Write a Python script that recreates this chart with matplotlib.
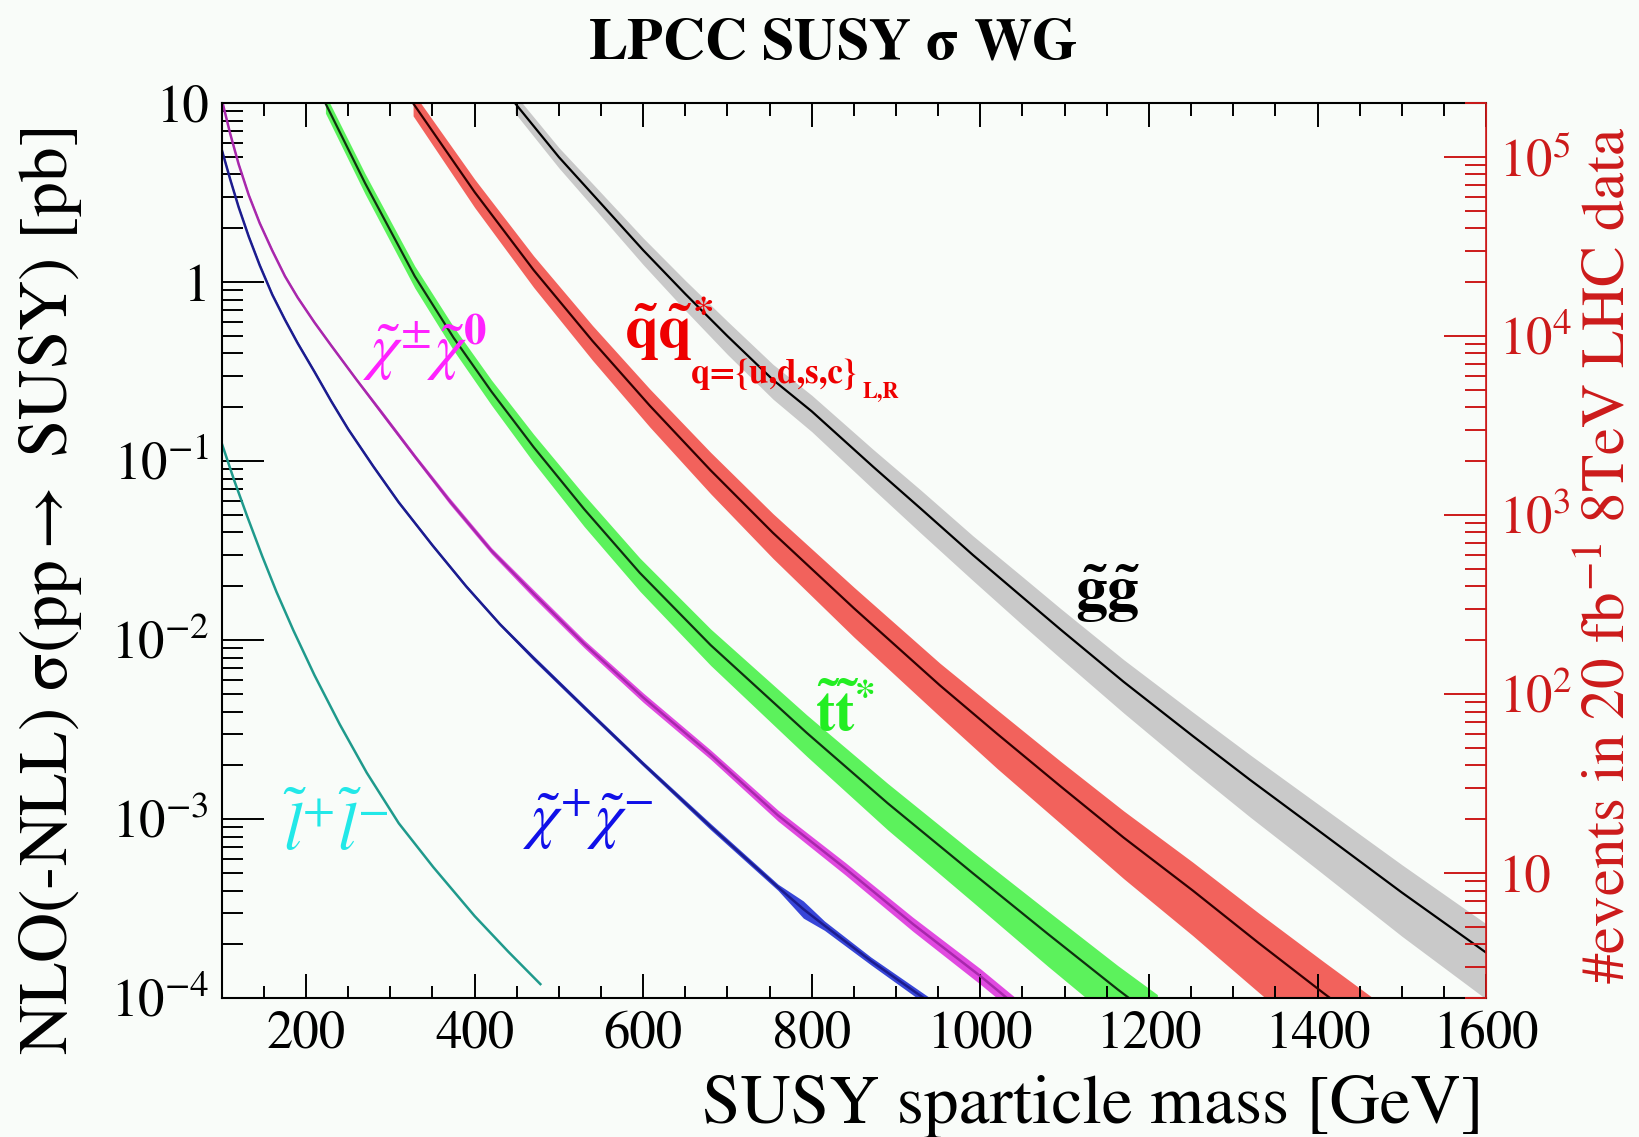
import numpy as np
import matplotlib.pyplot as plt
from matplotlib.ticker import FixedLocator, FixedFormatter, LogLocator, MultipleLocator, NullFormatter

plt.rcParams['font.family'] = 'STIXGeneral'
plt.rcParams['mathtext.fontset'] = 'stix'

# NLO(+NLL) cross sections [pb] vs. sparticle mass [GeV]
m_gluino = [448, 500, 550, 600, 650, 700, 754, 800, 873, 930, 991, 1050, 1095, 1170,
            1252, 1320, 1399, 1500, 1600]
xs_gluino = [10.0, 5.0, 2.75, 1.51, 0.86, 0.50, 0.285, 0.19, 0.093, 0.054, 0.030, 0.0174,
             0.0115, 0.00586, 0.00292, 0.00166, 8.8e-4, 3.9e-4, 1.8e-4]
unc_gluino = [0.12, 0.13, 0.15, 0.17, 0.19, 0.21, 0.22, 0.23, 0.25, 0.27, 0.28, 0.30,
              0.31, 0.33, 0.36, 0.38, 0.40, 0.43, 0.45]

m_squark = [327, 400, 470, 540, 608, 680, 754, 850, 952, 1020, 1095, 1170, 1252, 1330, 1407, 1480]
xs_squark = [10.0, 3.19, 1.17, 0.469, 0.204, 0.089, 0.0398, 0.0151, 0.0056, 0.0030, 0.00153,
             7.9e-4, 4.0e-4, 2.04e-4, 1.07e-4, 5.9e-5]
unc_squark = [0.15, 0.18, 0.20, 0.22, 0.24, 0.26, 0.28, 0.31, 0.33, 0.36, 0.38, 0.41,
              0.44, 0.47, 0.50, 0.52]

m_stop = [223, 270, 329, 375, 420, 470, 530, 596, 680, 794, 890, 991, 1080, 1163, 1210]
xs_stop = [10.0, 3.58, 1.08, 0.49, 0.245, 0.120, 0.054, 0.0238, 0.0094, 0.00304, 0.00123,
           5.0e-4, 2.29e-4, 1.12e-4, 7.6e-5]
unc_stop = [0.12, 0.13, 0.14, 0.15, 0.16, 0.18, 0.20, 0.21, 0.23, 0.26, 0.29, 0.31, 0.34, 0.36, 0.38]

m_c1n2 = [100, 110, 120, 132, 145, 160, 175, 190, 210, 230, 260, 290, 330, 370, 420, 470,
          530, 600, 680, 760, 840, 920, 1000, 1040]
xs_c1n2 = [10.5, 6.76, 4.57, 3.07, 2.14, 1.50, 1.08, 0.822, 0.596, 0.442, 0.285, 0.186,
           0.105, 0.0603, 0.0316, 0.0182, 0.00955, 0.00479, 0.00230, 0.00105, 5.3e-4,
           2.60e-4, 1.33e-4, 9.3e-5]
unc_c1n2 = [0.02, 0.02, 0.02, 0.02, 0.02, 0.02, 0.02, 0.02, 0.02, 0.02, 0.02, 0.03,
            0.03, 0.04, 0.04, 0.05, 0.05, 0.06, 0.06, 0.07, 0.08, 0.09, 0.10, 0.10]

m_c1c1 = [100, 110, 120, 132, 145, 160, 175, 190, 210, 230, 250, 280, 310, 350, 390, 430,
          470, 530, 600, 680, 760, 790, 815, 870, 940]
xs_c1c1 = [5.50, 3.76, 2.63, 1.80, 1.245, 0.851, 0.617, 0.457, 0.316, 0.216, 0.151, 0.0933,
           0.0589, 0.0339, 0.0200, 0.0123, 0.00794, 0.00422, 0.00204, 9.1e-4, 4.17e-4,
           3.15e-4, 2.55e-4, 1.62e-4, 9.5e-5]
unc_c1c1 = [0.02, 0.02, 0.02, 0.02, 0.02, 0.02, 0.02, 0.02, 0.02, 0.02, 0.02, 0.02,
            0.02, 0.02, 0.02, 0.02, 0.03, 0.03, 0.03, 0.04, 0.04, 0.11, 0.06, 0.05, 0.06]

m_slep = [100, 115, 130, 148, 165, 185, 210, 240, 272, 310, 351, 400, 440, 478]
xs_slep = [0.126, 0.0776, 0.0495, 0.0295, 0.0186, 0.01135, 0.00638, 0.00339, 0.00182,
           9.5e-4, 5.4e-4, 2.88e-4, 1.82e-4, 1.2e-4]

lumi = 20000.0  # pb^-1 (20 fb^-1)

y_ticks = [1e-4, 1e-3, 1e-2, 1e-1, 1, 10]
y_labels = ['$10^{-4}$', '$10^{-3}$', '$10^{-2}$', '$10^{-1}$', '1', '10']
ev_ticks = [10, 1e2, 1e3, 1e4, 1e5]
ev_labels = ['10', '$10^{2}$', '$10^{3}$', '$10^{4}$', '$10^{5}$']

bg = '#f9fcf9'
red = '#cc1a1a'

fig = plt.figure(figsize=(16.39, 11.37), dpi=100, facecolor=bg)
ax = fig.add_axes([0.1353, 0.122, 0.7714, 0.7872], facecolor=bg)
ax.set_yscale('log')
ax.set_xlim(100, 1600)
ax.set_ylim(1e-4, 10)


def band(m, xs, unc, fc, lc, lw=1.6):
    m = np.array(m)
    xs = np.array(xs)
    unc = np.array(unc)
    ax.fill_between(m, xs * (1 - unc), xs * (1 + unc), color=fc, lw=0)
    ax.plot(m, xs, color=lc, lw=lw)


band(m_gluino, xs_gluino, unc_gluino, '#c9c9c9', 'black')
band(m_squark, xs_squark, unc_squark, '#f2625c', '#300000')
band(m_stop, xs_stop, unc_stop, '#5cf25c', '#103010')
band(m_c1n2, xs_c1n2, unc_c1n2, '#e04ae0', '#a828ac', lw=1.8)
band(m_c1c1, xs_c1c1, unc_c1c1, '#3846d8', '#1c1c8e', lw=1.8)
ax.plot(m_slep, xs_slep, color='#1f9a8c', lw=1.8)

# labels
ax.text(804, 0.0031, r'$\mathbf{\tilde{t}\tilde{t}}^{\mathbf{*}}$', color='#22ee22',
        fontsize=42, va='baseline')
ax.text(1112, 0.0148, r'$\mathbf{\tilde{g}\tilde{g}}$', color='black', fontsize=46, va='baseline')
ax.text(577, 0.43, r'$\mathbf{\tilde{q}\tilde{q}}^{\mathbf{*}}$', color='#ee0000',
        fontsize=44, va='baseline')
ax.text(657, 0.275, 'q={u,d,s,c}', color='#ee0000', fontsize=25, fontweight='bold',
        va='baseline')
ax.text(860, 0.225, 'L,R', color='#ee0000', fontsize=16, fontweight='bold', va='baseline')
ax.text(268, 0.33, r'$\tilde{\chi}^{\pm}\tilde{\chi}^{\mathbf{0}}$', color='#ff22ff',
        fontsize=46, va='baseline')
ax.text(457, 8.0e-4, r'$\tilde{\chi}^{+}\tilde{\chi}^{-}$', color='#1010e8',
        fontsize=46, va='baseline')
ax.text(173, 6.7e-4, r'$\tilde{l}^{+}\tilde{l}^{-}$', color='#22e8e8',
        fontsize=48, va='baseline')

# axes, ticks
ax.xaxis.set_major_locator(MultipleLocator(200))
ax.xaxis.set_minor_locator(MultipleLocator(50))
ax.yaxis.set_major_locator(FixedLocator(y_ticks))
ax.yaxis.set_major_formatter(FixedFormatter(y_labels))
ax.yaxis.set_minor_locator(LogLocator(base=10, subs=np.arange(2, 10), numticks=100))
ax.yaxis.set_minor_formatter(NullFormatter())
ax.tick_params(axis='x', which='major', direction='in', top=True, bottom=True,
               length=17, width=1.4, labelsize=38, pad=9)
ax.tick_params(axis='x', which='minor', direction='in', top=True, bottom=True,
               length=9, width=1.4)
ax.tick_params(axis='y', which='major', direction='in', left=True, right=False,
               length=30, width=1.4, labelsize=38, pad=9)
ax.tick_params(axis='y', which='minor', direction='in', left=True, right=False,
               length=15, width=1.4)
for s in ['left', 'bottom', 'top']:
    ax.spines[s].set_linewidth(1.5)
ax.spines['right'].set_color(red)

ax2 = ax.twinx()
ax2.set_yscale('log')
ax2.set_ylim(1e-4 * lumi, 10 * lumi)
ax2.yaxis.set_major_locator(FixedLocator(ev_ticks))
ax2.yaxis.set_major_formatter(FixedFormatter(ev_labels))
ax2.yaxis.set_minor_locator(LogLocator(base=10, subs=np.arange(2, 10), numticks=100))
ax2.yaxis.set_minor_formatter(NullFormatter())
ax2.tick_params(axis='y', which='major', direction='in', length=30, width=1.4,
                colors=red, labelsize=38, pad=9)
ax2.tick_params(axis='y', which='minor', direction='in', length=15, width=1.4, colors=red)
for s in ['left', 'bottom', 'top']:
    ax2.spines[s].set_visible(False)
ax2.spines['right'].set_color(red)
ax2.spines['right'].set_linewidth(1.2)

fig.text(0.508, 0.961, r'LPCC SUSY $\mathbf{\sigma}$ WG', ha='center', va='center',
         fontsize=42, fontweight='bold')
fig.text(0.031, 0.48, r'NLO(-NLL) $\mathrm{\sigma}$(pp$\rightarrow$ SUSY) [pb]', rotation=90,
         ha='center', va='center', fontsize=50)
fig.text(0.9055, 0.012, 'SUSY sparticle mass [GeV]', ha='right', va='baseline', fontsize=50)
fig.text(0.982, 0.512, r'#events in 20 fb$^{-1}$ 8TeV LHC data', rotation=90,
         ha='center', va='center', fontsize=44, color=red)

fig.savefig('out.png', dpi=100, facecolor=bg)
